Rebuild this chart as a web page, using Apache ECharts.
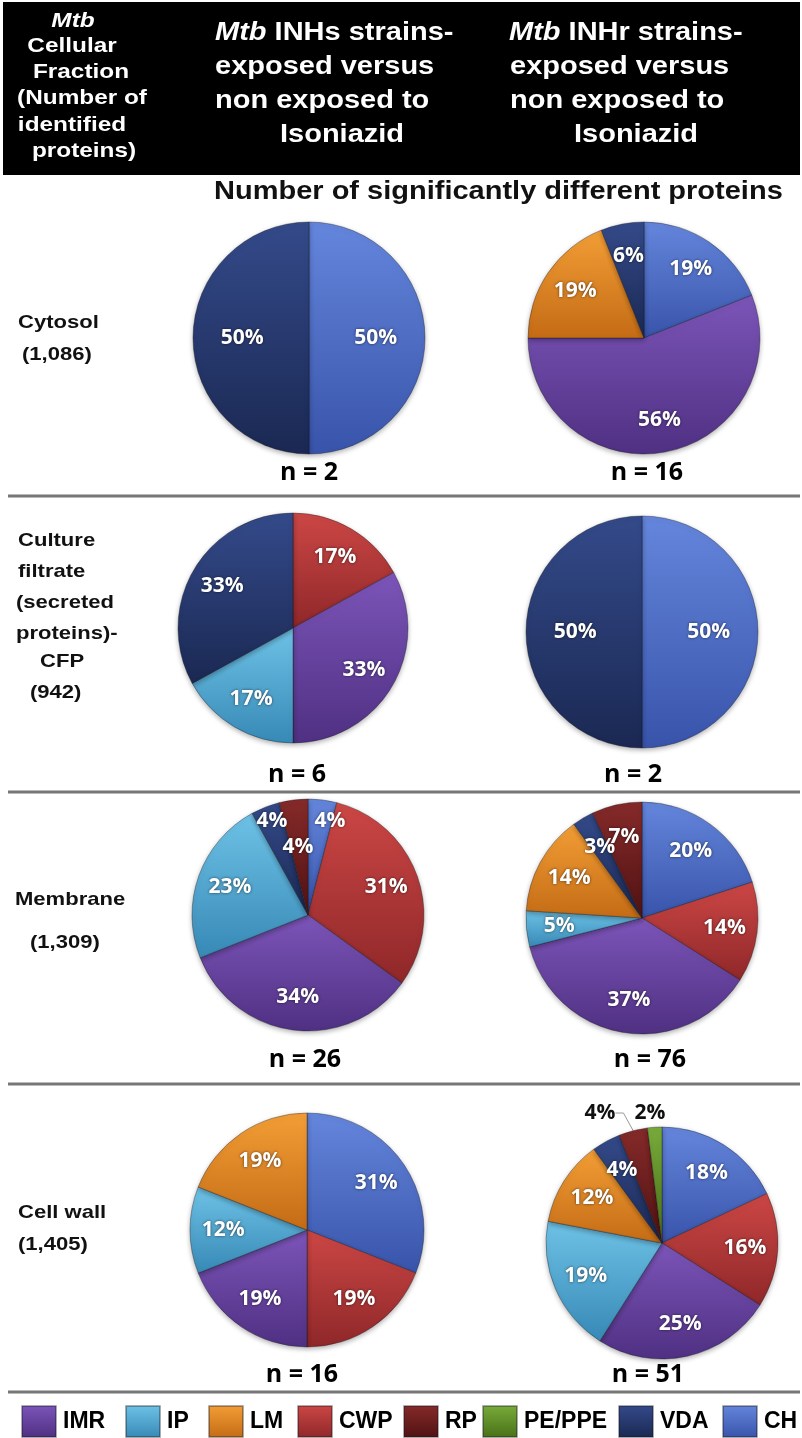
<!DOCTYPE html>
<html>
<head>
<meta charset="utf-8">
<script src="https://cdn.jsdelivr.net/npm/echarts@6/dist/echarts.min.js"></script>
<style>
html, body { margin: 0; padding: 0; background: #fff; }
#chart { width: 802px; height: 1438px; }
</style>
</head>
<body>
<div id="chart"></div>
<script>
// slice order, clockwise from 12 o'clock
const categories = ['CH', 'CWP', 'IMR', 'IP', 'LM', 'VDA', 'RP', 'PE/PPE'];
const legendOrder = ['IMR', 'IP', 'LM', 'CWP', 'RP', 'PE/PPE', 'VDA', 'CH'];

// percent of significantly different proteins (null = no slice)
const cytosolINHs = [50, null, null, null, null, 50, null, null];
const cytosolINHr = [19, null, 56, null, 19, 6, null, null];
const cfpINHs = [null, 17, 33, 17, null, 33, null, null];
const cfpINHr = [50, null, null, null, null, 50, null, null];
const membraneINHs = [4, 31, 34, 23, null, 4, 4, null];
const membraneINHr = [20, 14, 37, 5, 14, 3, 7, null];
const cellWallINHs = [31, 19, 19, 12, 19, null, null, null];
const cellWallINHr = [18, 16, 25, 19, 12, 4, 4, 2];

const nINHs = [2, 6, 26, 16];
const nINHr = [16, 2, 76, 51];

const FONT = '"Liberation Sans", Arial, sans-serif';
const PIE_FONT = '"Open Sans", "Noto Sans", sans-serif';
const stretch = 1.16;

const palette = {
  CH: ['#6486dc', '#3854aa'],
  CWP: ['#cc4745', '#8f2729'],
  IMR: ['#7c55b9', '#4f3082'],
  IP: ['#6ec2e6', '#3789b6'],
  LM: ['#f29e36', '#c46b15'],
  VDA: ['#344a8a', '#1a2852'],
  RP: ['#862a2a', '#501212'],
  'PE/PPE': ['#78ab3b', '#487016'],
};

const fills = {};
Object.keys(palette).forEach((k) => {
  fills[k] = new echarts.graphic.LinearGradient(0, 0, 0, 1, [
    { offset: 0, color: palette[k][0] },
    { offset: 1, color: palette[k][1] },
  ]);
});

const pies = [
  { key: 'cytosolINHs', values: cytosolINHs, center: [309, 338], r: 116, labelAt: 0.55 },
  { key: 'cytosolINHr', values: cytosolINHr, center: [644, 338], r: 116, labelAt: 0.69 },
  { key: 'cfpINHs', values: cfpINHs, center: [293, 628], r: 115, labelAt: 0.69 },
  { key: 'cfpINHr', values: cfpINHr, center: [642, 632], r: 116, labelAt: 0.55 },
  { key: 'membraneINHs', values: membraneINHs, center: [308, 915], r: 116, labelAt: 0.69 },
  { key: 'membraneINHr', values: membraneINHr, center: [642, 918], r: 116, labelAt: 0.69 },
  { key: 'cellWallINHs', values: cellWallINHs, center: [307, 1230], r: 117, labelAt: 0.69 },
  { key: 'cellWallINHr', values: cellWallINHr, center: [662, 1243], r: 116, labelAt: 0.69 },
];

// label placements (offset from pie centre) for the crowded thin slices
const labelNudges = {
  membraneINHs: { VDA: [-36, -94], RP: [-10, -68], CH: [22, -94] },
  cellWallINHr: { RP: [-62, -130], 'PE/PPE': [-12, -130] },
};
const outsideLabels = { cellWallINHr: ['RP', 'PE/PPE'] };

const sliceData = (values) =>
  categories
    .map((name, i) => ({ name, value: values[i] }))
    .filter((d) => d.value !== null);

const pieSeries = pies.map((p) => ({
  type: 'pie',
  center: p.center,
  radius: p.r,
  startAngle: 90,
  silent: true,
  animation: false,
  label: { show: false },
  labelLine: { show: false },
  data: sliceData(p.values).map((d) => ({
    ...d,
    itemStyle: {
      color: fills[d.name],
      borderColor: 'rgba(20, 20, 30, 0.35)',
      borderWidth: 1,
      shadowBlur: 5,
      shadowOffsetY: 2,
      shadowColor: 'rgba(0, 0, 0, 0.3)',
    },
  })),
}));

const labelSeries = pies.map((p) => {
  const data = sliceData(p.values);
  const outside = outsideLabels[p.key] || [];
  const nudges = labelNudges[p.key] || {};
  return {
    type: 'pie',
    center: p.center,
    radius: [p.r * (2 * p.labelAt - 1), p.r],
    startAngle: 90,
    silent: true,
    animation: false,
    avoidLabelOverlap: false,
    itemStyle: { color: 'rgba(0,0,0,0)' },
    label: {
      show: true,
      position: 'inside',
      formatter: '{c}%',
      color: '#fff',
      fontFamily: PIE_FONT,
      fontWeight: 'bold',
      fontSize: 21,
      textShadowColor: 'rgba(0, 0, 0, 0.6)',
      textShadowBlur: 3,
    },
    labelLine: { show: false },
    labelLayout: (params) => {
      const name = data[params.dataIndex] && data[params.dataIndex].name;
      const off = nudges[name];
      if (!off) return {};
      return {
        x: p.center[0] + off[0],
        y: p.center[1] + off[1],
        align: 'center',
        verticalAlign: 'middle',
      };
    },
    data: data.map((d) => {
      if (!outside.includes(d.name)) return d;
      return {
        ...d,
        label: {
          position: 'outside',
          color: '#111',
          textShadowBlur: 0,
          textShadowColor: 'transparent',
        },
        labelLine: {
          show: d.name === 'RP',
          length: 6,
          length2: 8,
          lineStyle: { color: '#999', width: 1 },
        },
      };
    }),
  };
});

function txt(text, x, y, opts = {}) {
  const size = opts.size || 25;
  const color = opts.color || '#fff';
  return {
    type: 'text',
    x,
    y,
    scaleX: opts.scaleX === undefined ? stretch : opts.scaleX,
    silent: true,
    z: 10,
    style: {
      text,
      fill: color,
      fontFamily: opts.family || FONT,
      fontWeight: 'bold',
      fontSize: size,
      align: opts.align || 'left',
      verticalAlign: 'middle',
      rich: {
        i: { fontStyle: 'italic', fontWeight: 'bold', fontSize: size, fontFamily: FONT, fill: color },
        n: { fontWeight: 'bold', fontSize: size, fontFamily: FONT, fill: color },
      },
    },
  };
}

const graphics = [
  { type: 'rect', shape: { x: 3, y: 2, width: 797, height: 173 }, style: { fill: '#000' }, silent: true },
  // left header column
  txt('{i|Mtb}', 73, 21, { size: 21, align: 'center' }),
  txt('Cellular', 72, 46, { size: 21, align: 'center' }),
  txt('Fraction', 81, 72, { size: 21, align: 'center' }),
  txt('(Number of', 82, 98, { size: 21, align: 'center' }),
  txt('identified', 72, 125, { size: 21, align: 'center' }),
  txt('proteins)', 84, 151, { size: 21, align: 'center' }),
  // INHs column
  txt('{i|Mtb}{n| INHs strains-}', 215, 33),
  txt('exposed versus', 215, 67),
  txt('non exposed to', 215, 101),
  txt('Isoniazid', 280, 135),
  // INHr column
  txt('{i|Mtb}{n| INHr strains-}', 509, 33),
  txt('exposed versus', 510, 67),
  txt('non exposed to', 510, 101),
  txt('Isoniazid', 574, 135),
  // sub title
  txt('Number of significantly different proteins', 214, 192, { color: '#111' }),
  // row labels
  txt('Cytosol', 18, 323, { size: 19, color: '#111' }),
  txt('(1,086)', 22, 355, { size: 19, color: '#111' }),
  txt('Culture', 18, 541, { size: 19, color: '#111' }),
  txt('filtrate', 18, 572, { size: 19, color: '#111' }),
  txt('(secreted', 16, 603, { size: 19, color: '#111' }),
  txt('proteins)-', 16, 634, { size: 19, color: '#111' }),
  txt('CFP', 40, 662, { size: 19, color: '#111' }),
  txt('(942)', 30, 693, { size: 19, color: '#111' }),
  txt('Membrane', 15, 900, { size: 19, color: '#111' }),
  txt('(1,309)', 30, 943, { size: 19, color: '#111' }),
  txt('Cell wall', 18, 1213, { size: 19, color: '#111' }),
  txt('(1,405)', 18, 1245, { size: 19, color: '#111' }),
];

// row dividers
[496, 792, 1084, 1392].forEach((y) => {
  graphics.push({
    type: 'line',
    silent: true,
    shape: { x1: 8, y1: y, x2: 800, y2: y },
    style: { stroke: '#777', lineWidth: 3 },
  });
});

// sample sizes under each pie
const nY = [473, 775, 1060, 1375];
const nXLeft = [309, 297, 305, 302];
const nXRight = [647, 633, 650, 648];
nY.forEach((y, i) => {
  graphics.push(txt('n = ' + nINHs[i], nXLeft[i], y, { size: 25, color: '#000', align: 'center', family: PIE_FONT, scaleX: 1 }));
  graphics.push(txt('n = ' + nINHr[i], nXRight[i], y, { size: 25, color: '#000', align: 'center', family: PIE_FONT, scaleX: 1 }));
});

// one legend per entry so each sits where it does in the figure
const legendLeft = [21, 125, 208, 297, 403, 482, 618, 722];
const legends = legendOrder.map((name, i) => ({
  data: [name],
  left: legendLeft[i],
  top: 1405,
  orient: 'horizontal',
  icon: 'rect',
  itemWidth: 34,
  itemHeight: 31,
  selectedMode: false,
  padding: 0,
  textStyle: {
    color: '#000',
    fontFamily: FONT,
    fontWeight: 'bold',
    fontSize: 23,
    padding: [0, 0, 0, 2],
  },
}));

const chart = echarts.init(document.getElementById('chart'), null, { renderer: 'canvas' });
chart.setOption({
  animation: false,
  backgroundColor: '#fff',
  legend: legends,
  graphic: graphics,
  series: [...pieSeries, ...labelSeries],
});
</script>
</body>
</html>
